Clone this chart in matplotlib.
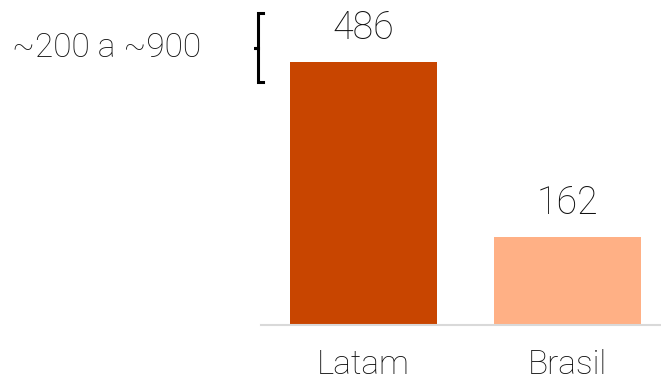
import matplotlib
matplotlib.use('Agg')
import matplotlib.pyplot as plt
from matplotlib.lines import Line2D

plt.rcParams['font.family'] = ['Roboto', 'DejaVu Sans']

categories = ['Latam', 'Brasil']
values = [486, 162]
colors = ['#C84500', '#FFB085']
range_label = '~200 a ~900'

W, H = 661, 382
fig = plt.figure(figsize=(W / 100, H / 100), dpi=100)
# axes: left edge at x=261px, baseline at y=325px, top at figure top
ax = fig.add_axes([261 / W, (H - 325) / H, 1 - 261 / W, 325 / H])

x = range(len(categories))
bars = ax.bar(x, values, width=0.72, color=colors)
ax.set_xlim(-0.502, 1.458)
ax.set_ylim(0, 600.5)

for b, v in zip(bars, values):
    ax.annotate(str(v), (b.get_x() + b.get_width() / 2, v), xytext=(0, 11),
                textcoords='offset points', ha='center', va='bottom',
                fontsize=27, fontweight='light', color='#111111')

ax.set_xticks(list(x))
ax.set_xticklabels(categories, fontsize=24, fontweight='light', color='#111111')
ax.tick_params(axis='x', length=0, pad=17)
ax.set_yticks([])
for s in ['top', 'right', 'left']:
    ax.spines[s].set_visible(False)
ax.spines['bottom'].set_color('#d9d9d9')
ax.spines['bottom'].set_linewidth(1.5)

# bracket for the range note
def px(xp, yp):
    return xp / W, 1 - yp / H

bx = [263, 257.5, 257.5, 254, 257.5, 257.5, 263]
by = [13, 13, 47.5, 47.5, 47.5, 82, 82]
pts = [px(a, b) for a, b in zip(bx, by)]
fig.add_artist(Line2D([p[0] for p in pts], [p[1] for p in pts],
                      transform=fig.transFigure, color='black', lw=2.2,
                      solid_joinstyle='miter'))
fig.text(12 / W, 1 - 48 / H, range_label, ha='left', va='center',
         fontsize=24, fontweight='light', color='#111111')

fig.savefig('out.png', dpi=100)
